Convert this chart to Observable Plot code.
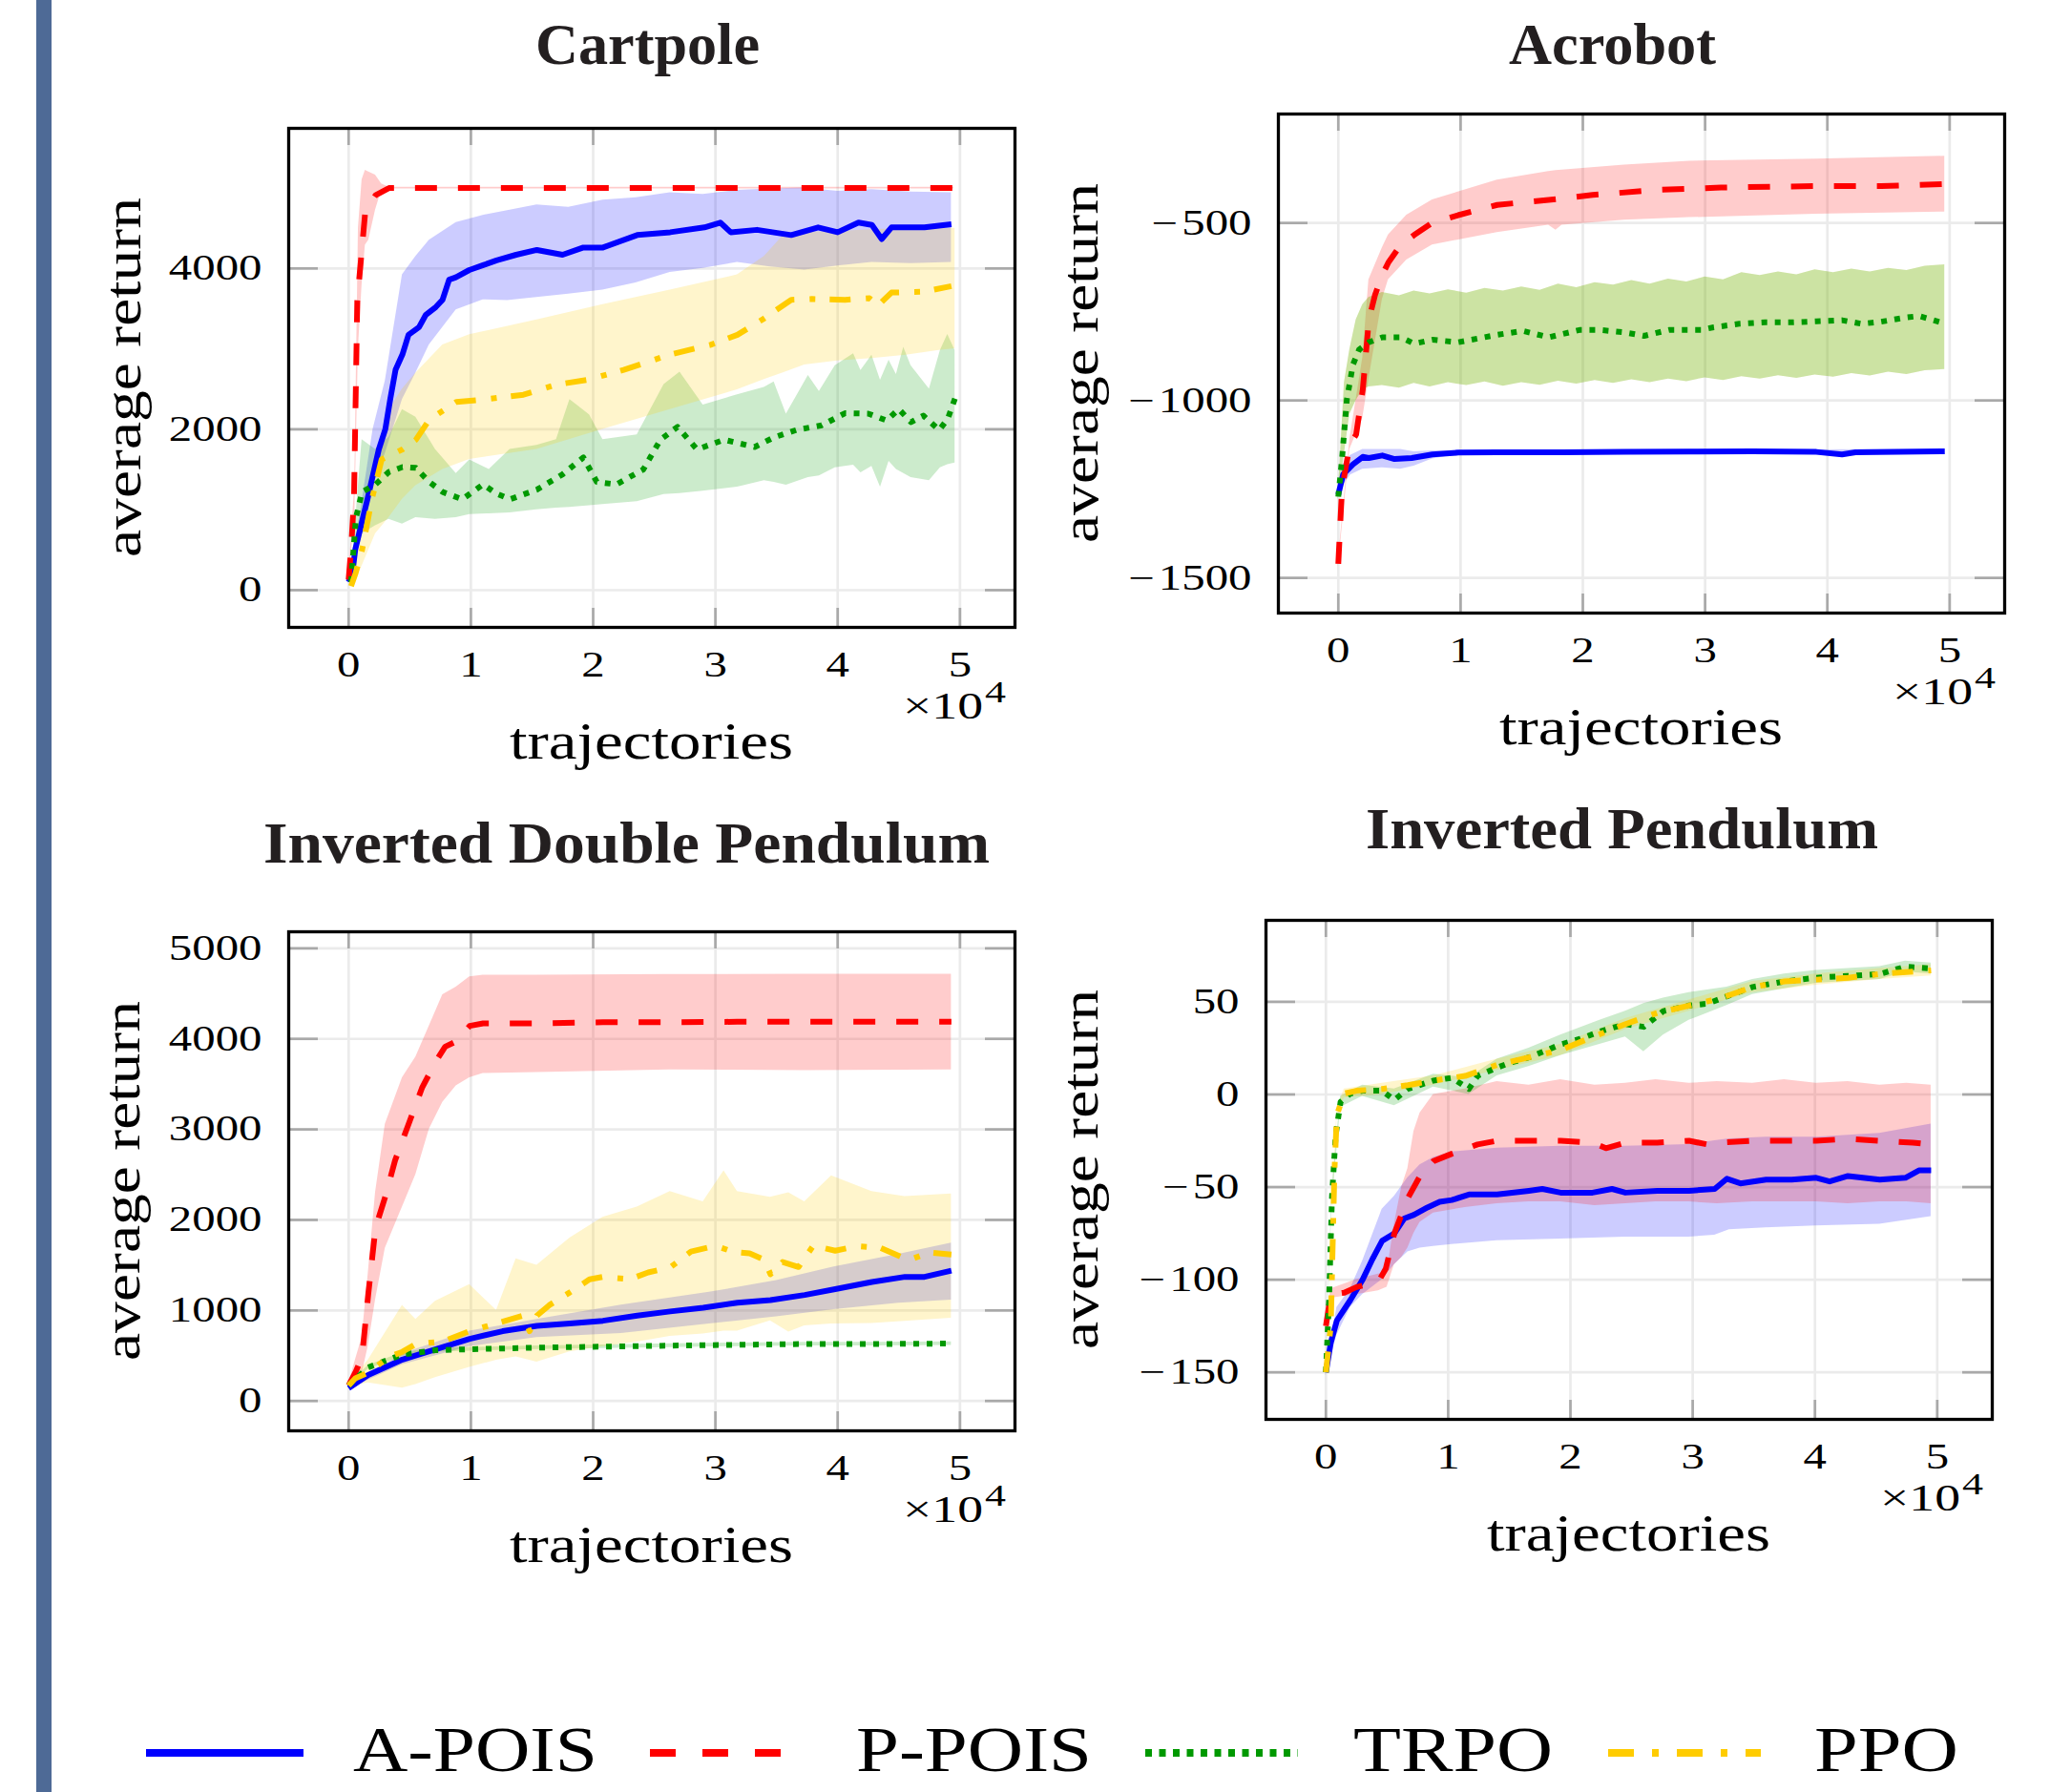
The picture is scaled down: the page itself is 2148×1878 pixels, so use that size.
<!DOCTYPE html>
<html><head><meta charset="utf-8">
<script src="https://cdn.jsdelivr.net/npm/d3@7"></script>
<script src="https://cdn.jsdelivr.net/npm/@observablehq/plot@0.6"></script>
<style>
html,body{margin:0;padding:0;background:#fff;}
#page{position:relative;width:2148px;height:1878px;overflow:hidden;background:#fff;}
#page svg{position:absolute;}
</style></head><body><div id="page"></div>
<script>
// ---------- tick labels ----------
const xTicks = [0, 1, 2, 3, 4, 5];             // trajectories, x 10^4
const cartpoleYTicks = [0, 2000, 4000];
const acrobotYTicks = [-1500, -1000, -500];
const idpYTicks = [0, 1000, 2000, 3000, 4000, 5000];
const ipYTicks = [-150, -100, -50, 0, 50];
const seriesNames = ["A-POIS", "P-POIS", "TRPO", "PPO"];
const seriesColors = ["#0000ff", "#ff0000", "#009900", "#ffcc00"];

// ---------- Cartpole ----------  [x (10^4 traj), value]   bands: [x, low, high]
const cp_apois = [[0,100],[0.03,200],[0.055,510],[0.154,1130],[0.247,1750],[0.30,2000],[0.34,2370],[0.384,2740],[0.44,2930],[0.49,3175],[0.576,3270],[0.63,3420],[0.713,3520],[0.768,3610],[0.822,3860],[0.877,3890],[0.987,3980],[1.10,4040],[1.21,4100],[1.37,4170],[1.54,4230],[1.75,4170],[1.92,4260],[2.08,4260],[2.36,4415],[2.63,4450],[2.91,4510],[3.04,4570],[3.125,4450],[3.34,4480],[3.62,4415],[3.84,4510],[4.0,4450],[4.17,4570],[4.28,4540],[4.36,4366],[4.44,4510],[4.71,4510],[4.93,4550]];
const cp_apois_band = [[0,80,120],[0.1,700,1000],[0.2,1300,2000],[0.3,1700,2600],[0.44,2370,3920],[0.55,2700,4150],[0.66,3050,4350],[0.88,3485,4570],[1.1,3610,4660],[1.3,3600,4720],[1.54,3640,4790],[1.8,3680,4760],[2.08,3730,4850],[2.35,3820,4880],[2.63,3950,4940],[2.9,4000,4920],[3.18,4075,4970],[3.45,4020,4990],[3.73,3980,5000],[4.0,4030,4960],[4.28,4075,4980],[4.6,4060,4950],[4.93,4075,4940]];
const cp_ppois = [[0,130],[0.02,500],[0.044,1130],[0.071,3600],[0.137,4720],[0.22,4910],[0.33,5000],[1,5000],[2,5000],[3,5000],[4,5000],[4.95,5000]];
const cp_ppois_band = [[0,100,150],[0.05,900,1300],[0.08,3000,4500],[0.11,3800,5100],[0.137,4290,5220],[0.165,4350,5200],[0.22,4725,5160],[0.27,4970,5050],[0.33,4990,5010],[4.95,4990,5010]];
const cp_trpo = [[0.02,100],[0.06,900],[0.11,1220],[0.22,1315],[0.33,1470],[0.44,1530],[0.55,1520],[0.66,1345],[0.77,1220],[0.93,1130],[1.1,1315],[1.21,1200],[1.32,1130],[1.54,1250],[1.75,1440],[1.92,1650],[2.03,1345],[2.19,1315],[2.41,1500],[2.55,1870],[2.69,2030],[2.85,1750],[3.07,1870],[3.32,1780],[3.48,1900],[3.66,1990],[3.87,2050],[4.06,2200],[4.25,2195],[4.4,2110],[4.5,2250],[4.6,2090],[4.7,2170],[4.83,1990],[4.9,2130],[4.96,2385]];
const cp_trpo_band = [[0.02,80,150],[0.11,700,1870],[0.22,800,1750],[0.33,880,1900],[0.44,820,2245],[0.55,900,2150],[0.71,880,1750],[0.88,900,1450],[0.99,940,1620],[1.15,950,1500],[1.32,960,1750],[1.54,1000,1800],[1.7,1020,1870],[1.81,1030,2370],[1.97,1050,2180],[2.08,1065,1870],[2.36,1100,1930],[2.58,1190,2555],[2.71,1200,2710],[2.9,1230,2300],[3.18,1280,2430],[3.4,1360,2520],[3.48,1340,2590],[3.58,1305,2190],[3.76,1400,2670],[3.85,1420,2470],[3.98,1520,2790],[4.13,1555,2940],[4.19,1460,2730],[4.28,1540,2920],[4.35,1280,2610],[4.42,1600,2860],[4.48,1500,2680],[4.54,1450,3020],[4.6,1400,2790],[4.75,1360,2500],[4.84,1520,2980],[4.9,1560,3180],[4.96,1580,2980]];
const cp_ppo = [[0.02,50],[0.055,200],[0.11,500],[0.19,1130],[0.27,1625],[0.44,1750],[0.55,1870],[0.66,2120],[0.88,2340],[1.1,2370],[1.43,2430],[1.7,2555],[1.97,2620],[2.25,2740],[2.63,2930],[2.96,3050],[3.18,3175],[3.4,3380],[3.62,3610],[3.79,3620],[4.06,3610],[4.26,3630],[4.33,3540],[4.44,3700],[4.7,3710],[4.93,3780]];
const cp_ppo_band = [[0.02,30,80],[0.11,300,700],[0.22,700,1600],[0.33,900,2245],[0.44,1130,2500],[0.55,1300,2700],[0.77,1500,3050],[0.99,1625,3175],[1.54,1750,3360],[2.08,2000,3550],[2.63,2245,3730],[3.18,2490,3920],[3.4,2620,4150],[3.55,2700,4400],[3.73,2800,4450],[4.0,2850,4460],[4.28,2880,4480],[4.56,2920,4500],[4.83,2980,4500],[4.96,3000,4500]];

// ---------- Acrobot ----------
const ac_apois = [[0,-1265],[0.04,-1208],[0.12,-1180],[0.2,-1159],[0.25,-1162],[0.36,-1155],[0.46,-1165],[0.6,-1162],[0.77,-1152],[0.98,-1147],[1.3,-1146],[1.83,-1146],[2.34,-1145],[2.87,-1144],[3.39,-1143],[3.91,-1145],[4.12,-1152],[4.23,-1146],[4.96,-1143]];
const ac_apois_band = [[0,-1275,-1255],[0.04,-1240,-1180],[0.1,-1210,-1155],[0.2,-1194,-1138],[0.36,-1190,-1138],[0.51,-1194,-1138],[0.62,-1185,-1145],[0.77,-1165,-1142],[0.98,-1152,-1142],[4.96,-1148,-1138]];
const ac_ppois = [[0,-1460],[0.03,-1250],[0.094,-1124],[0.146,-1096],[0.2,-970],[0.25,-773],[0.3,-703],[0.36,-646],[0.41,-611],[0.51,-562],[0.62,-534],[0.77,-499],[0.98,-478],[1.3,-449],[1.72,-435],[2.08,-421],[2.6,-407],[3.13,-400],[3.91,-396],[4.44,-396],[4.96,-390]];
const ac_ppois_band = [[0,-1470,-1450],[0.094,-1138,-1110],[0.2,-1050,-880],[0.25,-941,-660],[0.36,-716,-570],[0.41,-660,-534],[0.56,-604,-478],[0.77,-562,-435],[1.3,-527,-379],[1.72,-506,-355],[1.78,-520,-352],[1.83,-506,-351],[2.34,-492,-337],[2.87,-485,-326],[3.91,-475,-320],[4.96,-469,-312]];
const ac_trpo = [[0,-1271],[0.03,-1166],[0.07,-997],[0.12,-899],[0.17,-857],[0.25,-836],[0.36,-822],[0.51,-822],[0.62,-840],[0.77,-829],[0.98,-836],[1.3,-815],[1.51,-804],[1.72,-822],[1.98,-801],[2.13,-801],[2.34,-808],[2.5,-818],[2.71,-801],[2.97,-801],[3.07,-794],[3.28,-784],[3.49,-780],[3.7,-780],[3.91,-777],[4.12,-774],[4.28,-784],[4.44,-778],[4.65,-766],[4.75,-762],[4.96,-783]];
const ac_trpo_band = [[0,-1280,-1262],[0.05,-1150,-950],[0.094,-1039,-857],[0.146,-1000,-773],[0.2,-969,-730],[0.25,-962,-710],[0.36,-958,-696],[0.5,-965,-705],[0.62,-952,-692],[0.75,-962,-700],[0.9,-950,-688],[1.05,-958,-698],[1.2,-948,-684],[1.35,-960,-692],[1.5,-950,-680],[1.65,-957,-690],[1.8,-946,-672],[1.95,-954,-682],[2.1,-944,-668],[2.25,-952,-675],[2.4,-942,-662],[2.55,-950,-672],[2.7,-940,-658],[2.85,-947,-666],[3.0,-936,-652],[3.15,-944,-660],[3.3,-933,-640],[3.45,-940,-648],[3.6,-930,-638],[3.75,-938,-646],[3.9,-928,-632],[4.05,-934,-640],[4.2,-924,-630],[4.35,-931,-638],[4.5,-920,-628],[4.65,-927,-634],[4.8,-916,-622],[4.96,-913,-618]];
const ac_ppo_band = ac_trpo_band; // the PPO band lies under the TRPO band

// ---------- Inverted Double Pendulum ----------
const idp_apois = [[0,143],[0.16,286],[0.44,457],[0.71,571],[0.99,686],[1.26,771],[1.54,829],[1.81,857],[2.08,886],[2.36,943],[2.63,989],[2.9,1029],[3.18,1086],[3.45,1114],[3.73,1171],[4.0,1240],[4.28,1314],[4.55,1371],[4.71,1371],[4.93,1440]];
const idp_apois_band = [[0,130,160],[0.44,400,520],[0.99,600,771],[1.54,700,900],[2.23,745,1060],[2.95,850,1200],[3.5,930,1330],[3.97,1010,1480],[4.5,1080,1620],[4.93,1114,1743]];
const idp_ppois = [[0,171],[0.055,314],[0.11,486],[0.16,1171],[0.22,1914],[0.3,2257],[0.38,2657],[0.49,3057],[0.6,3457],[0.71,3743],[0.79,3914],[0.88,3971],[0.99,4143],[1.1,4171],[1.54,4171],[2.08,4183],[2.63,4183],[3.18,4189],[3.73,4189],[4.28,4189],[4.93,4189]];
const idp_ppois_band = [[0,160,190],[0.055,200,450],[0.11,300,700],[0.16,600,1400],[0.22,1114,2300],[0.3,1686,3057],[0.44,2143,3571],[0.55,2500,3800],[0.66,3000,4143],[0.77,3300,4486],[0.88,3480,4571],[0.99,3571,4686],[1.1,3617,4703],[1.54,3629,4703],[2.63,3657,4710],[3.73,3650,4714],[4.93,3657,4714]];
const idp_trpo = [[0,171],[0.16,371],[0.44,514],[0.71,560],[0.99,571],[1.54,589],[2.08,600],[2.63,611],[3.18,620],[3.73,629],[4.28,629],[4.93,634]];
const idp_trpo_band = [[0,160,182],[0.16,350,392],[0.44,494,534],[0.71,540,580],[0.99,551,591],[1.54,569,609],[2.08,580,620],[2.63,591,631],[3.18,600,640],[3.73,609,649],[4.28,609,649],[4.93,614,654]];
const idp_ppo = [[0,171],[0.055,250],[0.16,314],[0.33,486],[0.44,543],[0.55,629],[0.77,657],[0.99,771],[1.21,857],[1.43,943],[1.48,771],[1.54,943],[1.64,1057],[1.81,1200],[1.97,1343],[2.08,1371],[2.3,1345],[2.45,1420],[2.63,1475],[2.8,1650],[3.0,1715],[3.15,1645],[3.28,1630],[3.4,1560],[3.45,1400],[3.55,1535],[3.68,1480],[3.8,1715],[3.98,1660],[4.16,1710],[4.35,1690],[4.58,1555],[4.75,1640],[4.93,1617]];
const idp_ppo_band = [[0,160,180],[0.16,200,450],[0.44,143,1057],[0.55,180,900],[0.71,257,1100],[0.99,371,1286],[1.21,450,1000],[1.37,486,1571],[1.54,429,1500],[1.81,543,1800],[2.08,600,2029],[2.36,650,2143],[2.63,714,2314],[2.9,740,2200],[3.07,771,2543],[3.18,771,2314],[3.45,886,2250],[3.6,760,2300],[3.73,829,2200],[3.95,850,2486],[4.28,857,2314],[4.55,880,2257],[4.93,914,2286]];

// ---------- Inverted Pendulum ----------
const ip_apois = [[0,-150],[0.04,-134],[0.09,-122],[0.2,-111],[0.3,-100],[0.38,-89],[0.46,-79],[0.56,-75],[0.64,-67],[0.72,-65],[0.83,-61],[0.93,-58],[1.03,-57],[1.17,-54],[1.4,-54],[1.66,-52],[1.77,-51],[1.92,-53],[2.18,-53],[2.34,-51],[2.45,-53],[2.71,-52],[2.97,-52],[3.18,-51],[3.28,-45.5],[3.39,-48],[3.6,-46],[3.81,-46],[4.01,-45],[4.12,-47],[4.27,-44],[4.53,-46],[4.74,-45],[4.85,-41],[4.95,-41]];
const ip_apois_band = [[0,-152,-148],[0.09,-130,-115],[0.2,-115,-105],[0.3,-108,-90],[0.46,-100,-62],[0.56,-92,-55],[0.67,-85,-45],[0.77,-83,-38],[0.88,-82,-34],[1.03,-81,-31],[1.4,-79,-29],[1.92,-78,-28],[2.45,-77,-28],[2.97,-77,-27],[3.18,-76,-25],[3.3,-73,-24],[3.6,-72,-23],[4.01,-71,-23],[4.53,-70,-21],[4.95,-66,-16]];
const ip_ppois = [[0,-125],[0.04,-108],[0.15,-107],[0.25,-104],[0.43,-101],[0.49,-94],[0.56,-75],[0.67,-56],[0.77,-44],[0.88,-36],[1.03,-32],[1.24,-27],[1.4,-25],[1.66,-25],[1.92,-25],[2.18,-26],[2.29,-29],[2.45,-26],[2.71,-26],[2.97,-25],[3.12,-27],[3.23,-26],[3.49,-25],[3.75,-25],[4.01,-25],[4.27,-24],[4.53,-25],[4.8,-26],[4.95,-27]];
const ip_ppois_band = [[0,-128,-122],[0.04,-110,-105],[0.25,-108,-100],[0.43,-106,-97],[0.5,-104,-96],[0.56,-92,-70],[0.62,-88,-50],[0.67,-83,-40],[0.72,-75,-20],[0.77,-69,-10],[0.88,-64,0],[1.14,-61,3],[1.4,-59,7],[1.66,-58,5],[1.92,-58,8],[2.2,-60,5],[2.45,-59,6],[2.7,-58,8],[2.97,-58,6],[3.2,-59,7],[3.49,-58,6],[3.75,-58,8],[4.01,-58,6],[4.27,-59,7],[4.53,-58,5],[4.75,-58,6],[4.95,-59,5]];
const ip_trpo = [[0,-150],[0.026,-111],[0.05,-55],[0.08,-22],[0.12,-4],[0.2,0.5],[0.3,2],[0.46,2],[0.56,-3],[0.67,3],[0.88,7.5],[1.03,9],[1.17,3],[1.24,10],[1.4,14.5],[1.5,17],[1.66,20],[1.92,27],[2.08,30],[2.24,34],[2.45,38],[2.6,36.5],[2.76,45],[2.97,48],[3.12,49],[3.28,53],[3.49,58],[3.75,61],[4.01,63],[4.27,64],[4.53,65],[4.74,69],[4.95,68]];
const ip_trpo_band = [[0,-152,-148],[0.05,-60,-50],[0.12,-7,-1],[0.3,-1,5],[0.56,-6,3],[0.88,4,11],[1.17,0,9],[1.4,10,19],[1.66,15,25],[1.92,21,32],[2.24,27,40],[2.45,31,45],[2.6,23,49],[2.76,32,52],[2.97,40,55],[3.28,48,58],[3.49,54,62],[3.75,57,65],[4.01,60,67],[4.27,61,68],[4.53,62,69],[4.74,66,72],[4.95,65,71]];
const ip_ppo = [[0,-150],[0.04,-125],[0.07,-41],[0.09,-11],[0.15,0.5],[0.25,2],[0.46,3],[0.67,5],[0.88,7.5],[1.14,10],[1.4,16],[1.66,20],[1.92,24],[2.18,31],[2.45,38],[2.71,44],[2.97,48],[3.23,52],[3.49,58],[3.75,61],[4.01,62],[4.27,63],[4.53,65],[4.95,67]];
const ip_ppo_band = [[0,-152,-148],[0.04,-128,-122],[0.07,-44,-38],[0.09,-14,-8],[0.15,-2,3],[0.46,0,6],[0.88,5,10],[1.4,13,19],[1.92,21,27],[2.45,35,41],[2.97,45,51],[3.49,55,61],[4.01,59,65],[4.53,62,68],[4.95,64,70]];

// ---------- layout ----------
const FW = 761, FH = 523, ML = 200, MR = 20, MT = 10, MB = 60;
const XDOMAIN = [-0.49, 5.45];
const DASH = {apois: null, ppois: "23,22", trpo: "6,8", ppo: "22,16,6,15"};
const fmt = d => d < 0 ? "\u2212\u200a" + Math.abs(d) : String(d);

const panels = [
  {title: "Cartpole", tx: [561, 796], tb: 67, L: 302, T: 134, ylabX: 147, yDomain: [-463, 5742], yTicks: cartpoleYTicks,
   bands: [[cp_apois_band, 0], [cp_ppois_band, 1], [cp_trpo_band, 2], [cp_ppo_band, 3]],
   lines: [[cp_apois, 0], [cp_ppois, 1], [cp_trpo, 2], [cp_ppo, 3]]},
  {title: "Acrobot", tx: [1581, 1798], tb: 67, L: 1339, T: 119, ylabX: 1150, yDomain: [-1599, -193], yTicks: acrobotYTicks,
   bands: [[ac_apois_band, 0], [ac_ppois_band, 1], [ac_ppo_band, 3], [ac_trpo_band, 2]],
   lines: [[ac_apois, 0], [ac_ppois, 1], [ac_trpo, 2]]},
  {title: "Inverted Double Pendulum", tx: [276, 1037], tb: 904, L: 302, T: 976, ylabX: 146, yDomain: [-330, 5183], yTicks: idpYTicks,
   bands: [[idp_apois_band, 0], [idp_ppois_band, 1], [idp_trpo_band, 2], [idp_ppo_band, 3]],
   lines: [[idp_apois, 0], [idp_ppois, 1], [idp_trpo, 2], [idp_ppo, 3]]},
  {title: "Inverted Pendulum", tx: [1431, 1968], tb: 889, L: 1326, T: 964, ylabX: 1150, yDomain: [-175.4, 94.0], yTicks: ipYTicks,
   bands: [[ip_apois_band, 0], [ip_ppois_band, 1], [ip_trpo_band, 2], [ip_ppo_band, 3]],
   lines: [[ip_apois, 0], [ip_ppois, 1], [ip_trpo, 2], [ip_ppo, 3]]}
];
const dashes = [DASH.apois, DASH.ppois, DASH.trpo, DASH.ppo];

const page = document.getElementById("page");

// overlay (bar, titles, axis labels, legend)
const ov = d3.select(page).append("svg").attr("width", 2148).attr("height", 1878)
  .style("left", "0px").style("top", "0px");
ov.append("rect").attr("x", 38).attr("y", 0).attr("width", 16).attr("height", 1878).attr("fill", "#4e6a96");

function fitText(sel, len) { sel.attr("textLength", len).attr("lengthAdjust", "spacingAndGlyphs"); return sel; }

for (const p of panels) {
  const marks = [
    Plot.gridX(xTicks, {stroke: "#ebebeb", strokeOpacity: 1, strokeWidth: 2.7}),
    Plot.gridY(p.yTicks, {stroke: "#ebebeb", strokeOpacity: 1, strokeWidth: 2.7}),
    Plot.ruleX(xTicks, {x: d => d, insetBottom: FH - 18, stroke: "#a9a9a9", strokeWidth: 2.7}),
    Plot.ruleX(xTicks, {x: d => d, insetTop: FH - 20, stroke: "#a9a9a9", strokeWidth: 2.7}),
    Plot.ruleY(p.yTicks, {y: d => d, insetRight: FW - 31, stroke: "#a9a9a9", strokeWidth: 2.7}),
    Plot.ruleY(p.yTicks, {y: d => d, insetLeft: FW - 31, stroke: "#a9a9a9", strokeWidth: 2.7}),
    ...p.bands.map(([b, i]) => Plot.areaY(b, {x: d => d[0], y1: d => d[1], y2: d => d[2], fill: seriesColors[i], fillOpacity: 0.2})),
    ...p.lines.map(([l, i]) => Plot.lineY(l, {x: d => d[0], y: d => d[1], stroke: seriesColors[i], strokeWidth: 6,
        strokeDasharray: dashes[i], strokeLinejoin: "round", strokeLinecap: "butt"})),
    Plot.axisX({ticks: xTicks, tickSize: 0, tickPadding: 25, fontSize: 37, tickFormat: d => String(d), label: null}),
    Plot.axisY({ticks: p.yTicks, tickSize: 0, tickPadding: 28, fontSize: 37, tickFormat: fmt, label: null}),
    Plot.frame({stroke: "black", strokeWidth: 3.3})
  ];
  const svg = Plot.plot({
    width: ML + FW + MR, height: MT + FH + MB,
    marginLeft: ML, marginRight: MR, marginTop: MT, marginBottom: MB,
    x: {domain: XDOMAIN}, y: {domain: p.yDomain},
    style: {background: "transparent", overflow: "visible", fontFamily: "Liberation Serif", color: "black",
            position: "absolute", left: (p.L - ML) + "px", top: (p.T - MT) + "px", maxWidth: "none"},
    marks
  });
  page.appendChild(svg);
  d3.select(svg).selectAll("text").each(function () {
    const w = this.getComputedTextLength();
    this.setAttribute("textLength", (w * 1.32).toFixed(1));
    this.setAttribute("lengthAdjust", "spacingAndGlyphs");
  });

  // title
  fitText(ov.append("text").attr("x", (p.tx[0] + p.tx[1]) / 2).attr("y", p.tb).attr("text-anchor", "middle")
    .attr("font-family", "Liberation Serif").attr("font-weight", "bold").attr("font-size", 62).attr("fill", "#231f20")
    .text(p.title), p.tx[1] - p.tx[0]);
  // y label
  fitText(ov.append("text").attr("transform", `translate(${p.ylabX},${p.T + FH / 2}) rotate(-90)`).attr("text-anchor", "middle")
    .attr("font-family", "Liberation Serif").attr("font-size", 54).text("average return"), 377);
  // x label
  fitText(ov.append("text").attr("x", p.L + FW / 2).attr("y", p.T + FH + 138).attr("text-anchor", "middle")
    .attr("font-family", "Liberation Serif").attr("font-size", 54).text("trajectories"), 297);
  // x10^4 (kept just below the last tick label)
  fitText(ov.append("text").attr("x", p.L + FW - 117).attr("y", p.T + FH + 96)
    .attr("font-family", "Liberation Serif").attr("font-size", 40).text("\u00d710"), 84);
  fitText(ov.append("text").attr("x", p.L + FW - 31).attr("y", p.T + FH + 79)
    .attr("font-family", "Liberation Serif").attr("font-size", 31).text("4"), 22);
}

// legend
const legendItems = [
  {x1: 153, x2: 318, t1: 370, t2: 626, dash: null},
  {x1: 681, x2: 819, t1: 897, t2: 1144, dash: "27,28"},
  {x1: 1200, x2: 1360, t1: 1418, t2: 1627, dash: "7,7.5"},
  {x1: 1685, x2: 1845, t1: 1901, t2: 2052, dash: "27,19,7,19"}
];
legendItems.forEach((it, i) => {
  ov.append("line").attr("x1", it.x1).attr("x2", it.x2).attr("y1", 1837).attr("y2", 1837)
    .attr("stroke", seriesColors[i]).attr("stroke-width", 8).attr("stroke-dasharray", it.dash);
  fitText(ov.append("text").attr("x", it.t1).attr("y", 1856).attr("font-family", "Liberation Serif")
    .attr("font-size", 68).text(seriesNames[i]), it.t2 - it.t1);
});
</script></body></html>
